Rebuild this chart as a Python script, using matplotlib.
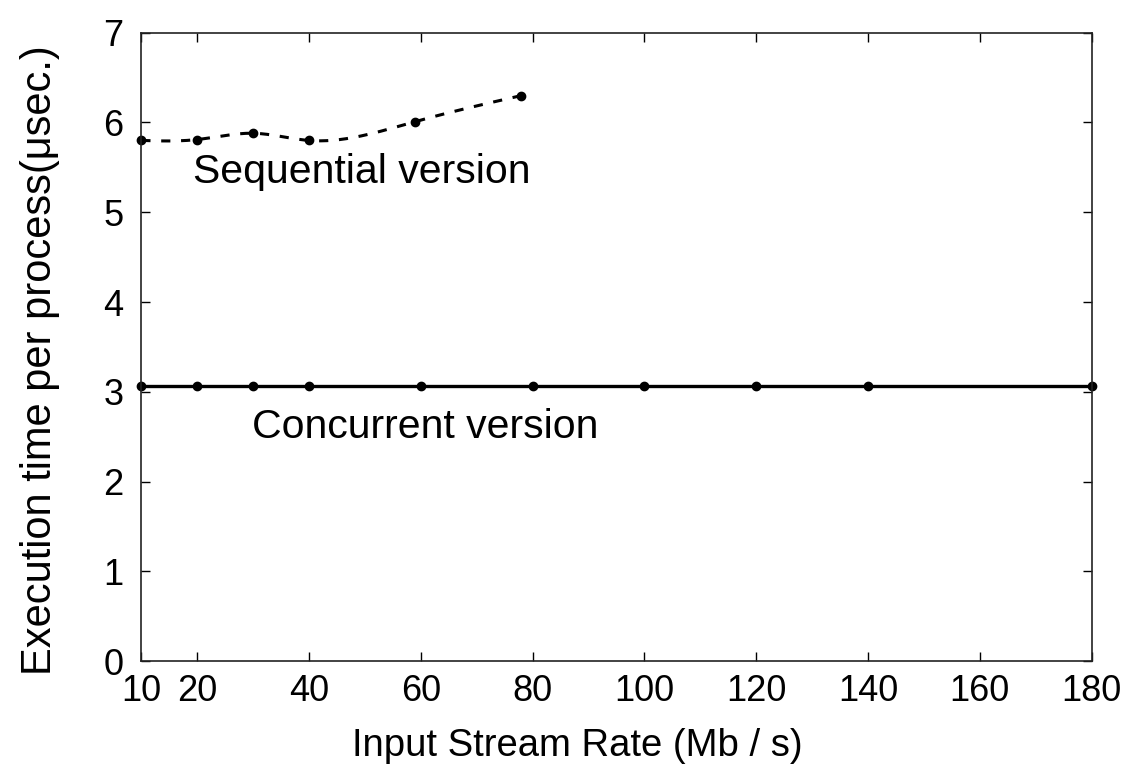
import numpy as np
import matplotlib
matplotlib.use("Agg")
import matplotlib.pyplot as plt

# Data
seq_x = [10, 20, 30, 40, 59, 78]
seq_y = [5.80, 5.81, 5.88, 5.80, 6.01, 6.30]
con_x = [10, 20, 30, 40, 60, 80, 100, 120, 140, 180]
con_y = [3.07, 3.07, 3.07, 3.07, 3.07, 3.07, 3.07, 3.07, 3.07, 3.07]
xticks = [10, 20, 40, 60, 80, 100, 120, 140, 160, 180]
yticks = [0, 1, 2, 3, 4, 5, 6, 7]


def natural_cubic_spline(x, y, n=300):
    x = np.asarray(x, float)
    y = np.asarray(y, float)
    m = len(x)
    h = np.diff(x)
    A = np.zeros((m, m))
    b = np.zeros(m)
    A[0, 0] = 1
    A[-1, -1] = 1
    for i in range(1, m - 1):
        A[i, i - 1] = h[i - 1]
        A[i, i] = 2 * (h[i - 1] + h[i])
        A[i, i + 1] = h[i]
        b[i] = 3 * ((y[i + 1] - y[i]) / h[i] - (y[i] - y[i - 1]) / h[i - 1])
    c = np.linalg.solve(A, b)
    xs = np.linspace(x[0], x[-1], n)
    ys = np.empty_like(xs)
    for k, xv in enumerate(xs):
        i = min(np.searchsorted(x, xv, side="right") - 1, m - 2)
        dx = xv - x[i]
        bi = (y[i + 1] - y[i]) / h[i] - h[i] * (2 * c[i] + c[i + 1]) / 3
        di = (c[i + 1] - c[i]) / (3 * h[i])
        ys[k] = y[i] + bi * dx + c[i] * dx ** 2 + di * dx ** 3
    return xs, ys


plt.rcParams['font.family'] = ['Liberation Sans', 'DejaVu Sans']

fig = plt.figure(figsize=(11.28, 7.78), dpi=100)
ax = fig.add_axes([0.1253, 0.150, 0.8425, 0.808])

sx, sy = natural_cubic_spline(seq_x, seq_y)
ax.plot(sx, sy, color='black', lw=2.2, linestyle=(0, (3, 3.5)))
ax.plot(seq_x, seq_y, 'o', color='black', ms=6, clip_on=False)

ax.plot(con_x, con_y, color='black', lw=2.4)
ax.plot(con_x, con_y, 'o', color='black', ms=6, clip_on=False)

ax.set_xlim(10, 180)
ax.set_ylim(0, 7)
ax.set_xticks(xticks)
ax.set_xticklabels([str(v) for v in xticks])
ax.set_yticks(yticks)
ax.set_yticklabels([str(v) for v in yticks])

ax.tick_params(direction='in', length=6.5, width=1, top=True, right=True,
               labelsize=26)
ax.tick_params(axis='x', pad=9)
ax.tick_params(axis='y', pad=13)
for s in ax.spines.values():
    s.set_linewidth(1.2)
    s.set_color('#222222')

ax.set_xlabel('Input Stream Rate (Mb / s)', fontsize=27.5)
ax.set_ylabel('Execution time per process(μsec.)', fontsize=30)
ax.xaxis.set_label_coords(0.459, -0.106)
ax.yaxis.set_label_coords(-0.086, 0.479)

ax.text(19.25, 5.45, 'Sequential version', fontsize=29.5, va='center', ha='left')
ax.text(29.8, 2.61, 'Concurrent version', fontsize=29.5, va='center', ha='left')

fig.savefig('out.png', dpi=100)
